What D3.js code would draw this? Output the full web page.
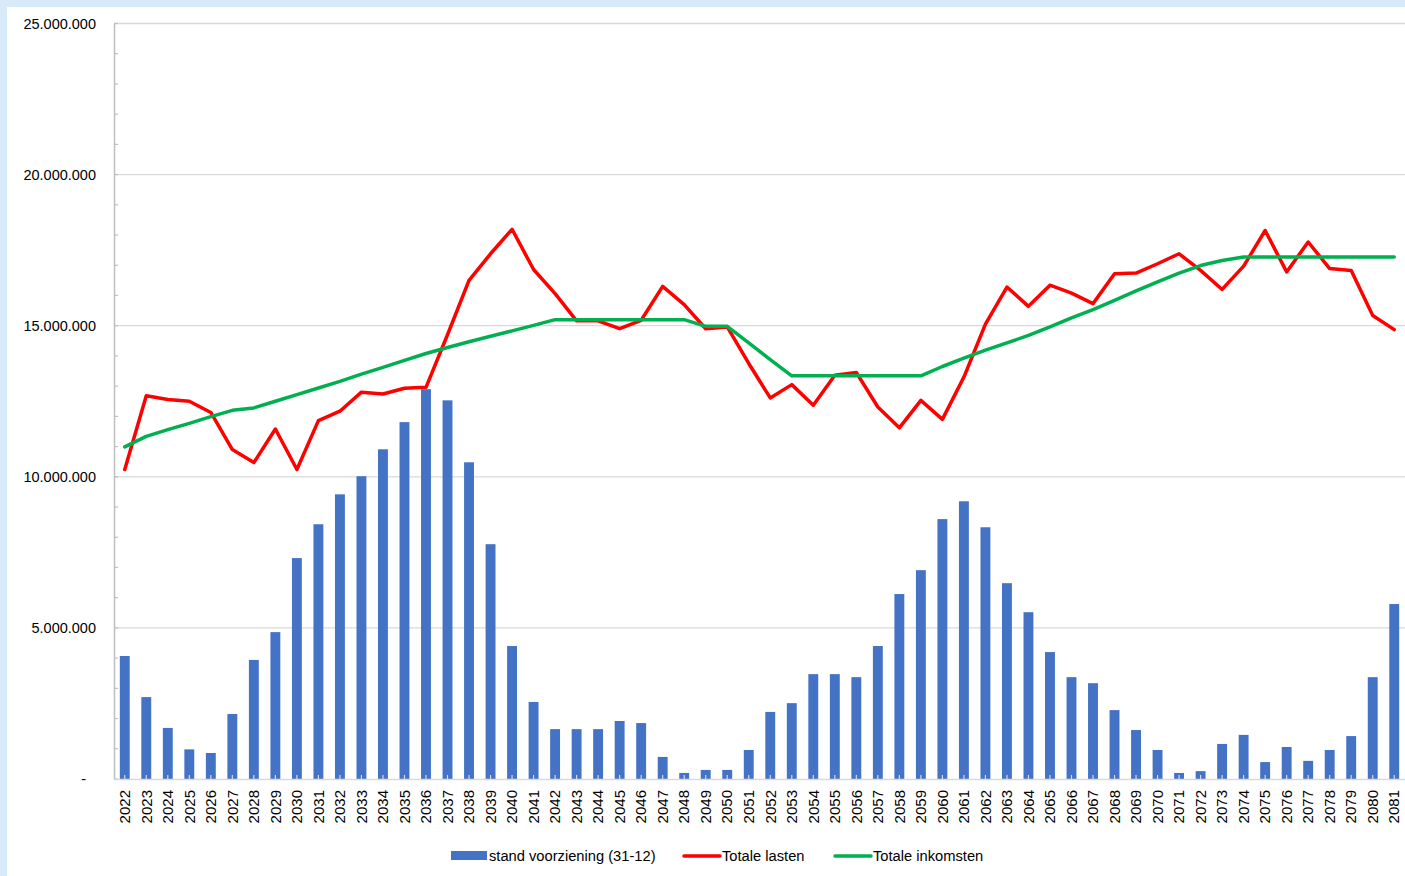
<!DOCTYPE html>
<html lang="nl">
<head>
<meta charset="utf-8">
<title>Voorziening</title>
<style type="text/css">
  body { margin: 0; background: #fff; }
  svg { display: block; font-family: "Liberation Sans", Arial, sans-serif; }
</style>
</head>
<body>
<script src="https://cdn.jsdelivr.net/npm/d3@7"></script>
<script type="text/javascript">
// Jaren
var years = d3.range(2022, 2082).map(String);

// stand voorziening (31-12)
var stand = [
  4070000, 2710000, 1690000, 980000, 860000, 2150000, 3940000, 4860000, 7310000, 8430000,
  9420000, 10020000, 10910000, 11810000, 12900000, 12530000, 10480000, 7770000, 4400000, 2550000,
  1650000, 1650000, 1650000, 1920000, 1850000, 730000, 200000, 300000, 300000, 960000,
  2220000, 2510000, 3470000, 3470000, 3370000, 4400000, 6120000, 6910000, 8600000, 9190000,
  8330000, 6480000, 5520000, 4200000, 3370000, 3170000, 2280000, 1620000, 960000, 200000,
  260000, 1160000, 1460000, 560000, 1060000, 600000, 960000, 1420000, 3370000, 5790000
];

// Totale lasten
var lasten = [
  10240000, 12680000, 12560000, 12500000, 12130000, 10900000, 10470000, 11580000, 10240000, 11860000,
  12170000, 12800000, 12740000, 12930000, 12960000, 14700000, 16500000, 17380000, 18190000, 16860000,
  16060000, 15160000, 15160000, 14900000, 15180000, 16300000, 15700000, 14900000, 14960000, 13750000,
  12610000, 13050000, 12370000, 13360000, 13450000, 12310000, 11620000, 12530000, 11900000, 13300000,
  15050000, 16280000, 15640000, 16340000, 16080000, 15730000, 16720000, 16740000, 17050000, 17380000,
  16830000, 16200000, 16970000, 18150000, 16780000, 17770000, 16890000, 16830000, 15340000, 14870000
];

// Totale inkomsten
var inkomsten = [
  10990000, 11340000, 11560000, 11770000, 11990000, 12200000, 12280000, 12500000, 12720000, 12940000,
  13160000, 13400000, 13620000, 13850000, 14080000, 14280000, 14470000, 14650000, 14830000, 15010000,
  15200000, 15200000, 15200000, 15200000, 15200000, 15200000, 15200000, 14980000, 14980000, 14430000,
  13880000, 13340000, 13340000, 13340000, 13340000, 13340000, 13340000, 13340000, 13650000, 13930000,
  14190000, 14430000, 14680000, 14960000, 15260000, 15530000, 15840000, 16150000, 16450000, 16740000,
  16990000, 17160000, 17270000, 17270000, 17270000, 17270000, 17270000, 17270000, 17270000, 17270000
];

var yTicks = [0, 5000000, 10000000, 15000000, 20000000, 25000000];
var legendLabels = ["stand voorziening (31-12)", "Totale lasten", "Totale inkomsten"];

var w = 1405, h = 876;
var plotLeft = 114, plotRight = 1405, plotTop = 23.5, plotBottom = 779;

var nl = d3.formatLocale({decimal: ",", thousands: ".", grouping: [3], currency: ["€", ""]});
var fmt = nl.format(",.0f");

var svg = d3.select("body").append("svg")
  .attr("width", w)
  .attr("height", h);

// lichtblauwe rand
svg.append("rect").attr("x", 0).attr("y", 0).attr("width", w).attr("height", 7).attr("fill", "#d6eaf8");
svg.append("rect").attr("x", 0).attr("y", 0).attr("width", 7).attr("height", h).attr("fill", "#d6eaf8");

var x = d3.scaleBand()
  .domain(years)
  .range([plotLeft, plotRight])
  .paddingInner(0.54)
  .paddingOuter(0.27);

var y = d3.scaleLinear()
  .domain([0, 25000000])
  .range([plotBottom, plotTop]);

function cx(i) { return x(years[i]) + x.bandwidth() / 2; }

// gridlines
svg.append("g")
  .selectAll("line")
  .data(yTicks.filter(function(d) { return d > 0; }))
  .enter().append("line")
  .attr("x1", plotLeft).attr("x2", plotRight)
  .attr("y1", function(d) { return y(d); })
  .attr("y2", function(d) { return y(d); })
  .attr("stroke", "#d9d9d9")
  .attr("stroke-width", 1.3);

// bars
svg.append("g")
  .selectAll("rect")
  .data(stand)
  .enter().append("rect")
  .attr("x", function(d, i) { return x(years[i]); })
  .attr("y", function(d) { return y(d); })
  .attr("width", x.bandwidth())
  .attr("height", function(d) { return y(0) - y(d); })
  .attr("fill", "#4472c4");

// y axis with minor ticks
var yAxis = d3.axisLeft(y)
  .tickValues(yTicks)
  .tickSize(0)
  .tickPadding(18)
  .tickFormat(function(d) { return d === 0 ? "-" : fmt(d); });

var gy = svg.append("g")
  .attr("transform", "translate(" + plotLeft + ",0)")
  .call(yAxis);
gy.select(".domain").attr("stroke", "#bfbfbf").attr("stroke-width", 1.5);
gy.selectAll("text")
  .attr("font-size", "14.5px")
  .attr("fill", "#000")
  .attr("font-family", "Liberation Sans, Arial, sans-serif")
  .attr("dx", function(d) { return d === 0 ? -10 : 0; });

svg.append("g")
  .attr("transform", "translate(" + plotLeft + ",0)")
  .selectAll("line")
  .data(d3.range(0, 25000001, 1000000))
  .enter().append("line")
  .attr("x1", 0).attr("x2", 4)
  .attr("y1", function(d) { return y(d); })
  .attr("y2", function(d) { return y(d); })
  .attr("stroke", "#bfbfbf")
  .attr("stroke-width", 1.2);

// x axis
var xAxis = d3.axisBottom(x).tickSize(0).tickPadding(9);
var gx = svg.append("g")
  .attr("transform", "translate(0," + plotBottom + ")")
  .call(xAxis);
gx.select(".domain").attr("stroke", "#d9d9d9").attr("stroke-width", 1.5);
gx.selectAll("text")
  .attr("font-size", "15px")
  .attr("fill", "#000")
  .attr("font-family", "Liberation Sans, Arial, sans-serif")
  .attr("transform", "rotate(-90)")
  .attr("text-anchor", "end")
  .attr("x", -11)
  .attr("y", 0)
  .attr("dy", "0.35em");

// category tick marks
svg.append("g")
  .selectAll("line")
  .data(years)
  .enter().append("line")
  .attr("x1", function(d, i) { return cx(i); })
  .attr("x2", function(d, i) { return cx(i); })
  .attr("y1", plotBottom)
  .attr("y2", plotBottom - 4)
  .attr("stroke", "#d9d9d9")
  .attr("stroke-width", 1.2);

// lines
var line = d3.line()
  .x(function(d, i) { return cx(i); })
  .y(function(d) { return y(d); });

svg.append("path")
  .datum(lasten)
  .attr("d", line)
  .attr("fill", "none")
  .attr("stroke", "#ff0000")
  .attr("stroke-width", 3.5)
  .attr("stroke-linejoin", "round")
  .attr("stroke-linecap", "round");

svg.append("path")
  .datum(inkomsten)
  .attr("d", line)
  .attr("fill", "none")
  .attr("stroke", "#00b050")
  .attr("stroke-width", 3.5)
  .attr("stroke-linejoin", "round")
  .attr("stroke-linecap", "round");

// legend
var legend = svg.append("g").attr("font-size", "14.7px");
var lx = [451, 684, 835];

legend.append("rect")
  .attr("x", lx[0]).attr("y", 851)
  .attr("width", 36).attr("height", 9)
  .attr("fill", "#4472c4");
legend.append("line")
  .attr("x1", lx[1]).attr("x2", lx[1] + 36)
  .attr("y1", 856).attr("y2", 856)
  .attr("stroke", "#ff0000").attr("stroke-width", 3.5).attr("stroke-linecap", "round");
legend.append("line")
  .attr("x1", lx[2]).attr("x2", lx[2] + 36)
  .attr("y1", 856).attr("y2", 856)
  .attr("stroke", "#00b050").attr("stroke-width", 3.5).attr("stroke-linecap", "round");

legend.selectAll("text")
  .data(legendLabels)
  .enter().append("text")
  .attr("x", function(d, i) { return lx[i] + 38; })
  .attr("y", 856)
  .attr("dy", "0.35em")
  .attr("fill", "#000")
  .text(function(d) { return d; });
</script>
</body>
</html>
